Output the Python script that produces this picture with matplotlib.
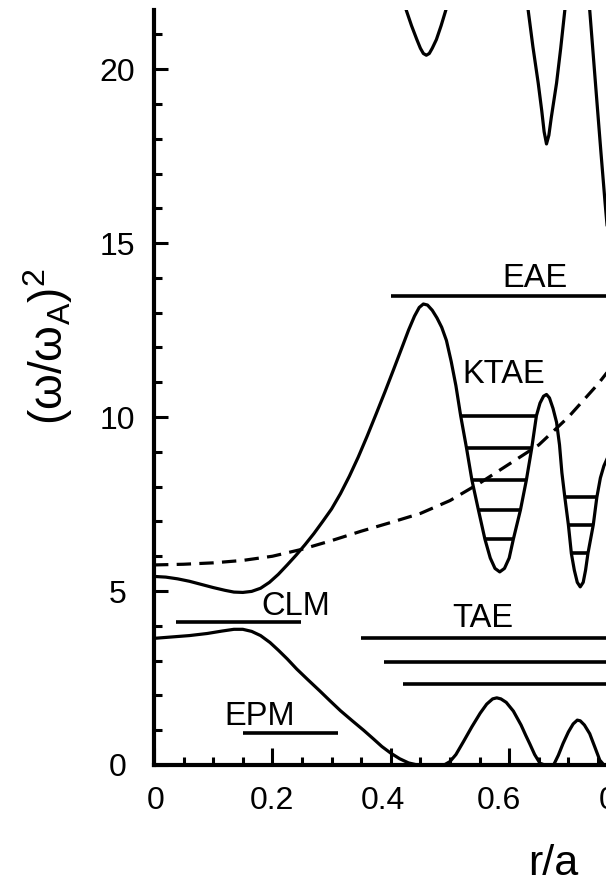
import matplotlib
matplotlib.use("Agg")
import matplotlib.pyplot as plt
from matplotlib.ticker import MultipleLocator, FixedLocator
from matplotlib.transforms import ScaledTranslation

plt.rcParams['font.family'] = ['Liberation Sans', 'DejaVu Sans']
plt.rcParams['mathtext.fontset'] = 'custom'
plt.rcParams['mathtext.rm'] = 'Liberation Sans'
plt.rcParams['mathtext.it'] = 'Liberation Sans:italic'

# ---------------- data ----------------
upper_r = [0.0, 0.02, 0.04, 0.06, 0.08, 0.10, 0.12, 0.135, 0.15, 0.165, 0.18, 0.195,
           0.21, 0.225, 0.24, 0.255, 0.27, 0.285, 0.30, 0.315, 0.33, 0.345, 0.36,
           0.375, 0.39, 0.405, 0.42, 0.43, 0.44, 0.448, 0.455, 0.462, 0.47, 0.478,
           0.486, 0.494, 0.502, 0.51, 0.518, 0.528, 0.537, 0.548, 0.559, 0.568,
           0.576, 0.584, 0.592, 0.600, 0.607, 0.619, 0.629, 0.638, 0.646, 0.652,
           0.658, 0.663, 0.668, 0.674, 0.680, 0.685, 0.689, 0.694, 0.700, 0.705,
           0.710, 0.715, 0.720, 0.725, 0.729, 0.733, 0.742, 0.748, 0.754, 0.760,
           0.768]
upper_v = [5.42, 5.40, 5.35, 5.28, 5.19, 5.10, 5.02, 4.97, 4.96, 4.99, 5.08, 5.25,
           5.48, 5.75, 6.03, 6.33, 6.65, 7.0, 7.36, 7.8, 8.3, 8.85, 9.45,
           10.08, 10.72, 11.38, 12.05, 12.5, 12.9, 13.15, 13.25, 13.22, 13.07, 12.85,
           12.58, 12.2, 11.6, 10.9, 10.04, 9.1, 8.19, 7.33, 6.49, 5.95,
           5.65, 5.55, 5.65, 5.95, 6.49, 7.33, 8.19, 9.1, 10.04, 10.4,
           10.6, 10.65, 10.55, 10.25, 9.85, 9.2, 8.4, 7.69, 6.9, 6.08,
           5.6, 5.25, 5.12, 5.25, 5.6, 6.08, 6.9, 7.69, 8.25, 8.6,
           8.9]

lower_r = [0.0, 0.03, 0.06, 0.09, 0.115, 0.135, 0.15, 0.165, 0.18, 0.196, 0.21, 0.225,
           0.241, 0.26, 0.28, 0.297, 0.315, 0.335, 0.354, 0.37, 0.385, 0.40, 0.415,
           0.43, 0.445, 0.49, 0.50, 0.51, 0.523, 0.537, 0.551, 0.562, 0.572, 0.579,
           0.586, 0.595, 0.607, 0.62, 0.628, 0.635, 0.643, 0.652, 0.66, 0.675, 0.683,
           0.691, 0.70, 0.708, 0.715, 0.72, 0.727, 0.736, 0.745, 0.753, 0.76, 0.78]
lower_v = [3.64, 3.68, 3.72, 3.78, 3.85, 3.90, 3.90, 3.84, 3.72, 3.52, 3.30, 3.05,
           2.76, 2.45, 2.13, 1.85, 1.56, 1.27, 1.0, 0.76, 0.53, 0.34, 0.18,
           0.06, 0.0, 0.0, 0.1, 0.3, 0.68, 1.1, 1.49, 1.75, 1.9, 1.93,
           1.9, 1.8, 1.55, 1.15, 0.85, 0.6, 0.3, 0.05, 0.0, 0.0, 0.28,
           0.62, 0.95, 1.18, 1.29, 1.27, 1.15, 0.9, 0.5, 0.14, 0.0, 0.0]

dash_r = [0.0, 0.05, 0.10, 0.15, 0.20, 0.25, 0.30, 0.35, 0.40, 0.45, 0.50, 0.55,
          0.60, 0.65, 0.70, 0.75, 0.78]
dash_v = [5.75, 5.77, 5.81, 5.88, 6.0, 6.2, 6.45, 6.72, 6.97, 7.23, 7.6, 8.1,
          8.65, 9.2, 10.0, 10.95, 11.6]

top1_r = [0.42, 0.426, 0.435, 0.444, 0.45, 0.455, 0.46, 0.465, 0.47, 0.477, 0.485, 0.493, 0.50]
top1_v = [22.1, 21.7, 21.25, 20.85, 20.6, 20.45, 20.4, 20.45, 20.6, 20.85, 21.25, 21.7, 22.1]
top2_r = [0.628, 0.632, 0.64, 0.649, 0.655, 0.659, 0.663, 0.667, 0.671, 0.68, 0.687, 0.694, 0.698]
top2_v = [22.3, 21.7, 20.65, 19.6, 18.8, 18.2, 17.85, 18.1, 18.6, 19.6, 20.6, 21.7, 22.3]
top3_r = [0.733, 0.736, 0.742, 0.748, 0.755, 0.762, 0.77]
top3_v = [22.2, 21.7, 20.4, 19.1, 17.6, 16.15, 14.6]

# horizontal levels: (value, r_start, r_end)
eae_levels = [(13.48, 0.401, 1.0)]
clm_levels = [(4.12, 0.038, 0.249)]
epm_levels = [(0.93, 0.151, 0.311)]
tae_levels = [(3.64, 0.349, 1.0), (2.97, 0.389, 1.0), (2.32, 0.42, 1.0)]
ktae_levels = [(10.04, 0.517, 0.646), (9.10, 0.528, 0.638), (8.19, 0.537, 0.629),
               (7.33, 0.548, 0.619), (6.49, 0.559, 0.607),
               (7.69, 0.694, 0.748), (6.90, 0.700, 0.742), (6.08, 0.705, 0.733)]

labels = [("EAE", 0.644, 13.74), ("KTAE", 0.591, 10.98), ("CLM", 0.24, 4.31),
          ("TAE", 0.556, 3.97), ("EPM", 0.179, 1.15)]

x_ticks = [0, 0.2, 0.4, 0.6, 0.8]
x_ticklabels = ["0", "0.2", "0.4", "0.6", "0.8"]
y_ticks = [0, 5, 10, 15, 20]

# ---------------- figure ----------------
W, H = 606, 883
fig = plt.figure(figsize=(W / 100, H / 100), dpi=100)
ax_left, ax_bottom, ax_top = 154, 765, 10
ax = fig.add_axes([ax_left / W, (H - ax_bottom) / H, 592 / W, (ax_bottom - ax_top) / H])
ax.set_xlim(0, 1.0)
ax.set_ylim(0, 21.7)

lw = 2.3
ax.plot(upper_r, upper_v, color='black', lw=lw, solid_joinstyle='round')
ax.plot(lower_r, lower_v, color='black', lw=lw, solid_joinstyle='round')
ax.plot(dash_r, dash_v, color='black', lw=lw, linestyle=(0, (4.5, 2.6)))
for rr, vv in [(top1_r, top1_v), (top2_r, top2_v), (top3_r, top3_v)]:
    ax.plot(rr, vv, color='black', lw=lw, solid_joinstyle='round')

for group in [eae_levels, clm_levels, epm_levels, tae_levels, ktae_levels]:
    for v, r0, r1 in group:
        ax.hlines(v, r0, r1, color='black', lw=2.6)

for txt, rx, vy in labels:
    ax.text(rx, vy, txt, fontsize=23.5, ha='center', va='baseline', color='black')

for s in ['top', 'right']:
    ax.spines[s].set_visible(False)
for s in ['left', 'bottom']:
    ax.spines[s].set_linewidth(3.0)

ax.xaxis.set_major_locator(FixedLocator(x_ticks))
ax.set_xticklabels(x_ticklabels)
ax.xaxis.set_minor_locator(MultipleLocator(0.05))
ax.yaxis.set_major_locator(FixedLocator(y_ticks))
ax.yaxis.set_minor_locator(MultipleLocator(1))
ax.tick_params(axis='both', which='both', direction='in', width=2.2, labelsize=23)
ax.tick_params(axis='x', which='major', length=12, pad=15)
ax.tick_params(axis='x', which='minor', length=6)
ax.tick_params(axis='y', which='major', length=10, pad=26.5)
ax.tick_params(axis='y', which='minor', length=6)

for lab in ax.get_yticklabels():
    lab.set_horizontalalignment('center')

x_label_shift_px = [2, 0, -8, -10, -7]
for lab, dx in zip(ax.get_xticklabels(), x_label_shift_px):
    lab.set_transform(lab.get_transform() + ScaledTranslation(dx / 100, 0, fig.dpi_scale_trans))

fig.text(48 / W, 1 - 347 / H, "(ω/ω$_{\\mathrm{A}}$)$^{\\mathrm{2}}$", rotation=90,
         ha='center', va='center', fontsize=33)
fig.text(553 / W, 1 - 875 / H, "r/a", ha='center', va='baseline', fontsize=31)

fig.savefig("out.png", dpi=100)
